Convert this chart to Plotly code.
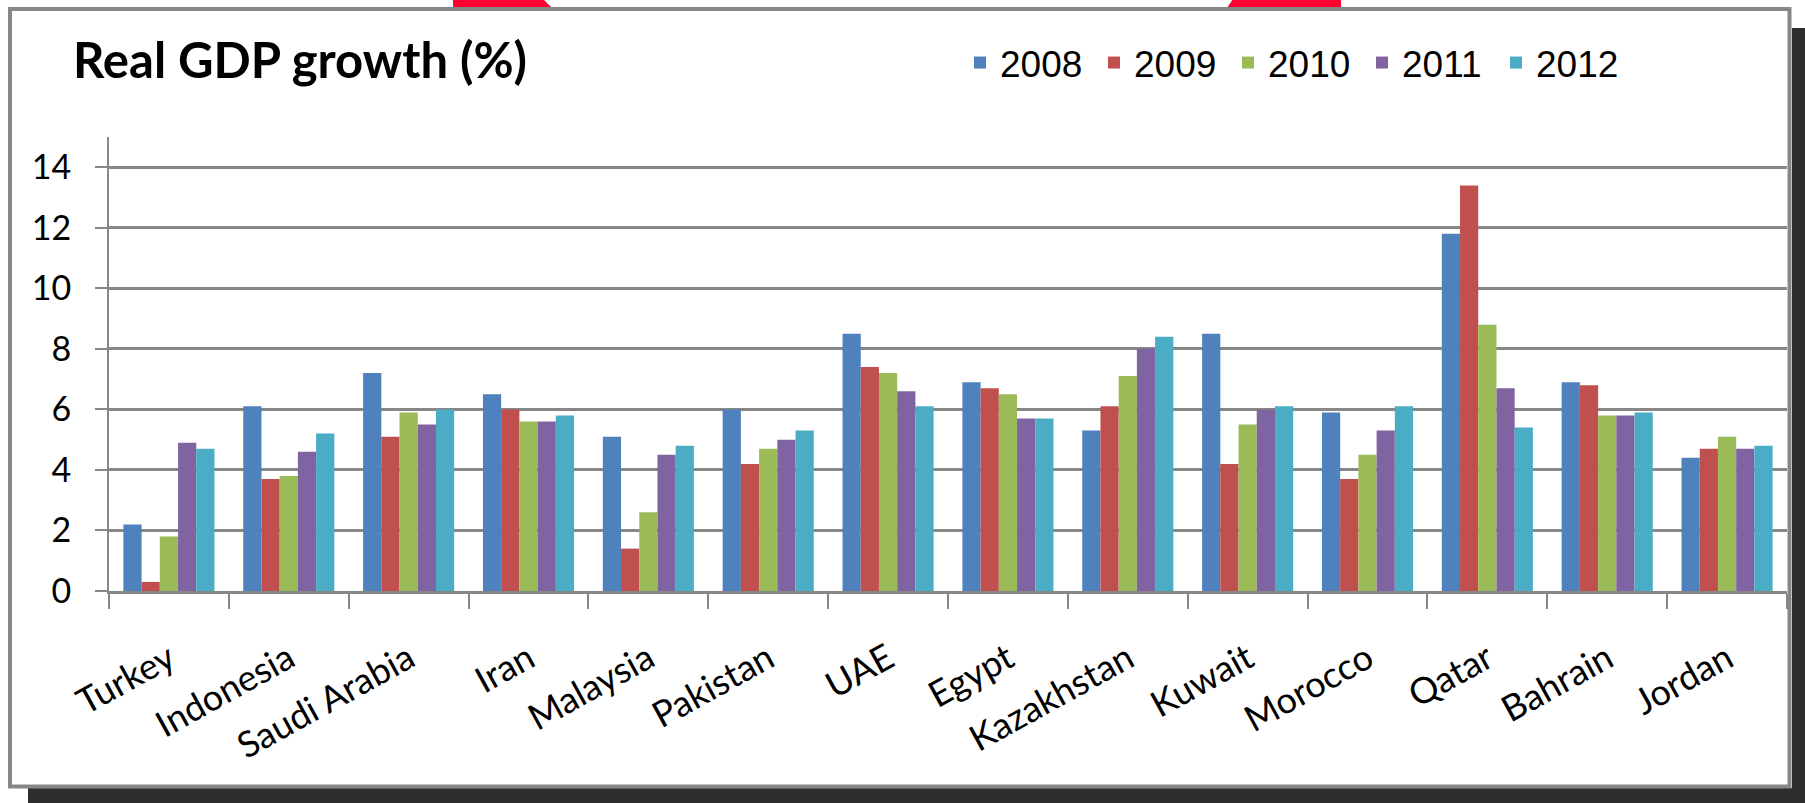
import plotly.graph_objects as go

countries = ["Turkey", "Indonesia", "Saudi Arabia", "Iran", "Malaysia", "Pakistan", "UAE",
             "Egypt", "Kazakhstan", "Kuwait", "Morocco", "Qatar", "Bahrain", "Jordan"]
years = ["2008", "2009", "2010", "2011", "2012"]
g2008 = [2.2, 6.1, 7.2, 6.5, 5.1, 6.0, 8.5, 6.9, 5.3, 8.5, 5.9, 11.8, 6.9, 4.4]
g2009 = [0.3, 3.7, 5.1, 6.0, 1.4, 4.2, 7.4, 6.7, 6.1, 4.2, 3.7, 13.4, 6.8, 4.7]
g2010 = [1.8, 3.8, 5.9, 5.6, 2.6, 4.7, 7.2, 6.5, 7.1, 5.5, 4.5, 8.8, 5.8, 5.1]
g2011 = [4.9, 4.6, 5.5, 5.6, 4.5, 5.0, 6.6, 5.7, 8.0, 6.0, 5.3, 6.7, 5.8, 4.7]
g2012 = [4.7, 5.2, 6.0, 5.8, 4.8, 5.3, 6.1, 5.7, 8.4, 6.1, 6.1, 5.4, 5.9, 4.8]
series = [g2008, g2009, g2010, g2011, g2012]
colors = ["#4F81BD", "#C0504D", "#9BBB59", "#8064A2", "#4BACC6"]
y_ticks = [0, 2, 4, 6, 8, 10, 12, 14]

W, H = 1805, 803
L, R, T, B = 109, 1787, 137, 591
GRAY = "#878787"


def px(x):
    return (x - L) / (R - L)


def py(y):
    return (B - y) / (B - T)


fig = go.Figure()
for name, vals, col in zip(years, series, colors):
    fig.add_trace(go.Bar(name=name, x=countries, y=vals,
                         marker=dict(color=col, line=dict(width=0))))

shapes = []
# shadow
shapes.append(dict(type="rect", xref="paper", yref="paper", x0=px(1792), x1=px(1806),
                   y0=py(28), y1=py(804), fillcolor="#2e2e2e", line=dict(width=0), layer="below"))
shapes.append(dict(type="rect", xref="paper", yref="paper", x0=px(28), x1=px(1806),
                   y0=py(788), y1=py(804), fillcolor="#2e2e2e", line=dict(width=0), layer="below"))


def path(points):
    return "M" + " L".join(f"{px(a)},{py(b)}" for a, b in points) + " Z"


# red tabs at the top
shapes.append(dict(type="path", xref="paper", yref="paper",
                   path=path([(453, -1), (543, -1), (552, 8), (453, 8)]),
                   fillcolor="#FF0033", line=dict(width=0), layer="below"))
shapes.append(dict(type="path", xref="paper", yref="paper",
                   path=path([(1233, -1), (1341, -1), (1341, 8), (1227, 8)]),
                   fillcolor="#FF0033", line=dict(width=0), layer="below"))
# frame
shapes.append(dict(type="rect", xref="paper", yref="paper", x0=px(10), x1=px(1789.5),
                   y0=py(9), y1=py(786.5), fillcolor="rgba(0,0,0,0)",
                   line=dict(color=GRAY, width=4), layer="above"))

fig.update_layout(
    width=W, height=H, autosize=False,
    margin=dict(l=L, r=W - R, t=T, b=H - B, pad=0),
    barmode="group", bargap=0.24, bargroupgap=0,
    plot_bgcolor="white", paper_bgcolor="white",
    title=dict(text="Real GDP growth (%)", xref="container", yref="container",
               x=73 / W, xanchor="left", y=1 - 61 / H, yanchor="middle",
               font=dict(family="Lato", size=49, color="black", weight=700)),
    legend=dict(orientation="h", xref="container", yref="container",
                x=960 / W, xanchor="left", y=1 - 63 / H, yanchor="middle",
                entrywidth=89, entrywidthmode="pixels",
                font=dict(family="Liberation Sans", size=37, color="black"),
                bgcolor="rgba(0,0,0,0)", borderwidth=0),
    xaxis=dict(tickson="boundaries", ticks="outside", ticklen=15, tickwidth=1.5,
               tickcolor=GRAY, showline=True, linecolor=GRAY, linewidth=2.5,
               showgrid=False, tickangle=-29, ticklabelstandoff=30,
               tickfont=dict(family="Lato", size=36, color="black")),
    yaxis=dict(range=[0, 15], tickvals=y_ticks, ticks="outside", ticklen=12,
               tickwidth=2, tickcolor=GRAY, showgrid=True, gridcolor=GRAY,
               gridwidth=2.5, showline=True, linecolor=GRAY, linewidth=2,
               zeroline=False, ticklabelstandoff=17,
               tickfont=dict(family="Lato", size=34, color="black")),
    shapes=shapes,
)

fig.write_html("out.html",
               config={"displayModeBar": False},
               post_script="document.body.style.margin='0px';document.body.style.overflow='hidden';")
